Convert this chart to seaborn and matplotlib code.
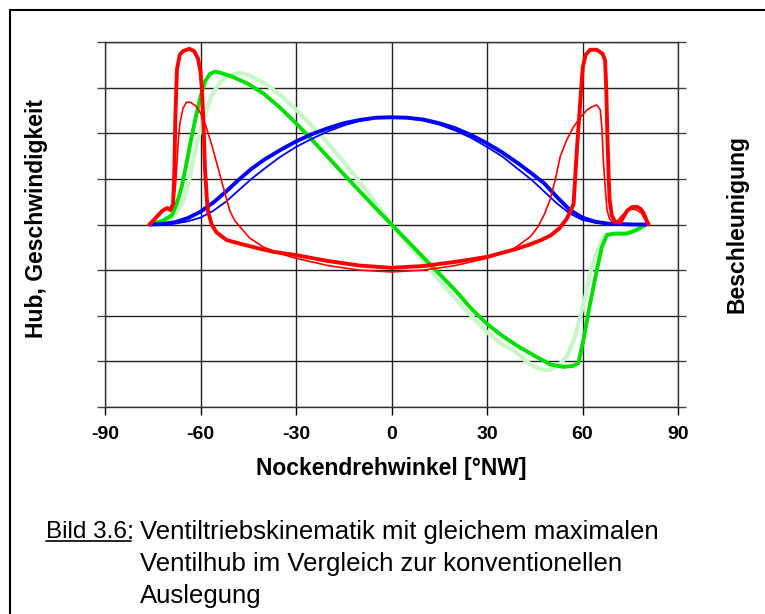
import matplotlib
matplotlib.use("Agg")
import matplotlib.pyplot as plt
from matplotlib.lines import Line2D
import seaborn as sns

# Nockenwinkel / Kurven
lift_x = [-76, -72, -68, -64, -60, -56, -52, -48, -44, -40, -35, -30, -25, -20, -15, -10, -5, 0,
          5, 10, 15, 20, 25, 30, 35, 40, 44, 48, 52, 56, 60, 64, 68, 72, 76, 80]
lift_new = [0, 0.01, 0.05, 0.14, 0.28, 0.48, 0.72, 0.98, 1.22, 1.42, 1.63, 1.82, 1.98, 2.11, 2.22, 2.29, 2.34, 2.35,
            2.34, 2.3, 2.22, 2.11, 1.96, 1.78, 1.57, 1.33, 1.12, 0.9, 0.6, 0.32, 0.15, 0.06, 0.02, 0.01, 0, 0]
lift_conv = [0, 0.0, 0.02, 0.07, 0.15, 0.3, 0.5, 0.75, 1.0, 1.22, 1.48, 1.7, 1.88, 2.04, 2.17, 2.27, 2.33, 2.35,
             2.33, 2.28, 2.19, 2.06, 1.9, 1.7, 1.48, 1.2, 0.98, 0.72, 0.46, 0.24, 0.1, 0.04, 0.01, 0, 0, 0]

vel_new_x = [-76, -72, -69, -67.5, -66, -64.5, -63, -61.5, -60, -58.5, -57, -55.5, -54, -50, -45, -40, -35, -30,
             -25, -20, -15, -10, -5, 0, 5, 10, 15, 20, 25, 30, 35, 40, 45, 50, 54, 57, 58.7, 60.3, 62.4, 64.5,
             66.1, 67.7, 70, 74, 77, 80]
vel_new = [0, 0.08, 0.2, 0.45, 0.8, 1.3, 1.85, 2.35, 2.8, 3.15, 3.3, 3.35, 3.33, 3.24, 3.08, 2.86, 2.56, 2.22,
           1.86, 1.48, 1.1, 0.73, 0.36, 0, -0.36, -0.72, -1.08, -1.44, -1.84, -2.18, -2.45, -2.68, -2.88, -3.07,
           -3.12, -3.1, -3.04, -2.53, -1.73, -1.0, -0.49, -0.23, -0.2, -0.2, -0.12, 0]

vel_conv_x = [-76, -72, -68.6, -65.5, -63.5, -61.3, -59.5, -58, -56.5, -55, -53.5, -51.8, -49.5, -47.6, -45, -40,
              -35, -30, -25, -20, -15, -10, -5, 0, 5, 10, 15, 20, 25, 30, 35, 38.3, 42, 45, 47.7, 50, 52, 55,
              57.5, 59.3, 61, 62.4, 64.5, 66.6, 68, 72.8, 76, 80]
vel_conv = [0, 0.07, 0.16, 0.5, 1.0, 1.74, 2.2, 2.55, 2.82, 3.0, 3.14, 3.24, 3.3, 3.32, 3.28, 3.1,
            2.84, 2.52, 2.16, 1.79, 1.37, 0.93, 0.47, 0, -0.42, -0.82, -1.22, -1.62, -2.0, -2.36, -2.64, -2.75,
            -2.98, -3.12, -3.19, -3.18, -3.12, -2.9, -2.5, -2.02, -1.55, -1.07, -0.6, -0.27, -0.2, -0.2, -0.14, 0]

acc_new_x = [-76, -74, -72, -70.5, -69.5, -68.6, -68.2, -67.9, -67.4, -66.5, -65.5, -63.5, -62, -60.8, -60, -59.5,
             -59, -58.6, -58, -57.6, -56.5, -55, -51.8, -47.6, -42, -37, -30, -20, -10, 0, 10, 20, 30, 38, 43,
             47, 50, 52.8, 55, 56.4, 57.2, 58.2, 59.3, 60.1, 61, 62.4, 64.5, 66.3, 67.1, 67.5, 67.8, 68.2, 68.5,
             69.2, 70.3, 71.9, 73, 74, 75.5, 77.1, 78.3, 79.2, 80.2, 80.8]
acc_new = [0, 0.15, 0.3, 0.36, 0.32, 0.45, 1.2, 2.33, 3.4, 3.72, 3.8, 3.85, 3.8, 3.64, 3.35, 2.9,
           2.1, 1.23, 0.55, 0.28, 0.0, -0.17, -0.34, -0.42, -0.52, -0.6, -0.67, -0.8, -0.9, -0.95, -0.91, -0.82,
           -0.71, -0.56, -0.45, -0.34, -0.24, -0.08, 0.12, 0.32, 0.45, 1.6, 2.69, 3.45, 3.72, 3.83, 3.83, 3.74,
           3.6, 2.9, 2.0, 1.1, 0.55, 0.2, 0.05, 0.04, 0.18, 0.3, 0.38, 0.39, 0.34, 0.25, 0.08, 0]

acc_conv_x = [-76, -74, -72, -70.5, -69.5, -68.6, -67.8, -67, -66.5, -65.5, -64.4, -63.2, -61.5, -60.2, -58.5,
              -57.1, -55.5, -53.9, -52.3, -50.8, -49.2, -47.6, -44.5, -40.3, -35, -30, -20, -10, 0, 10, 20, 30,
              38, 43.6, 46, 48, 49.8, 51.5, 53, 55, 57.2, 59.3, 61.4, 63, 64.5, 65.6, 66.1, 66.6, 67.2, 67.7,
              68.5, 69.8, 71, 72.5, 74, 75.5, 77, 78.5, 79.5, 80.8]
acc_conv = [0, 0.14, 0.28, 0.34, 0.3, 0.4, 0.9, 1.8, 2.2, 2.55, 2.68, 2.68, 2.6, 2.47, 2.2,
            1.89, 1.5, 1.09, 0.68, 0.3, 0.08, -0.05, -0.3, -0.49, -0.64, -0.74, -0.9, -1.0, -1.04, -1.0, -0.9,
            -0.74, -0.55, -0.27, -0.05, 0.22, 0.54, 1.0, 1.49, 1.85, 2.14, 2.35, 2.51, 2.58, 2.62, 2.51, 2.1,
            1.34, 0.75, 0.32, 0.12, 0.04, 0.08, 0.2, 0.3, 0.34, 0.32, 0.25, 0.12, 0]

x_ticks = [-90, -60, -30, 0, 30, 60, 90]

sns.set_theme(style="white")
plt.rcParams['font.family'] = ['Liberation Sans', 'DejaVu Sans']
plt.rcParams['text.color'] = 'black'
plt.rcParams['xtick.color'] = 'black'
plt.rcParams['ytick.color'] = 'black'

fig = plt.figure(figsize=(7.65, 6.14), dpi=100)
ax = fig.add_axes([105 / 765, 1 - 407 / 614, 573 / 765, 365 / 614])

# Reihenfolge: hellgruen unten, rot oben
curves = [
    (vel_conv_x, vel_conv, "#c6f7c6", 3.0),
    (vel_new_x, vel_new, "#00e000", 2.8),
    (lift_x, lift_conv, "#0000ff", 1.3),
    (lift_x, lift_new, "#0000ff", 2.8),
    (acc_conv_x, acc_conv, "#ff0000", 1.2),
    (acc_new_x, acc_new, "#ff0000", 2.8),
]
for xs, ys, col, lw in curves:
    sns.lineplot(x=xs, y=ys, ax=ax, sort=False, estimator=None, color=col, linewidth=lw)

ax.set_xlim(-90, 90)
ax.set_ylim(-4, 4)
ax.set_xticks(x_ticks)
ax.set_xticklabels([str(t) for t in x_ticks], fontsize=14, fontweight="bold", color="black")
ax.set_yticks(range(-4, 5))
ax.set_yticklabels([])
ax.grid(True, color="#222222", linewidth=1)
ax.tick_params(axis="x", direction="out", length=6, width=1, color="black", bottom=True, pad=8)
ax.tick_params(axis="y", direction="out", length=6, width=1, color="#444444", left=True, right=True)
for s in ax.spines.values():
    s.set_color("#333333")
    s.set_linewidth(1)
ax.set_xlabel("")
ax.set_ylabel("")

fig.text(391 / 765, 1 - 468 / 614, "Nockendrehwinkel [°NW]", ha="center", va="center",
         fontsize=16.5, fontweight="bold")
fig.text(37 / 765, 1 - 219 / 614, "Hub, Geschwindigkeit", ha="center", va="center",
         rotation=90, fontsize=16.5, fontweight="bold")
fig.text(737 / 765, 1 - 224 / 614, "Beschleunigung", ha="center", va="center",
         rotation=90, fontsize=16.5, fontweight="bold")

# Bildunterschrift
cap = dict(fontsize=18.5, va="center")
t_bild = fig.text(46 / 765, 1 - 532 / 614, "Bild 3.6", fontsize=17.5, va="center")
fig.text(127 / 765, 1 - 532 / 614, ":", **cap)
fig.text(140 / 765, 1 - 532 / 614, "Ventiltriebskinematik mit gleichem maximalen", **cap)
fig.text(140 / 765, 1 - 564 / 614, "Ventilhub im Vergleich zur konventionellen", **cap)
fig.text(140 / 765, 1 - 596 / 614, "Auslegung", **cap)

fig.canvas.draw()
bb = t_bild.get_window_extent().transformed(fig.transFigure.inverted())
fig.add_artist(Line2D([bb.x0, bb.x1 + 0.005], [bb.y0 + 0.004, bb.y0 + 0.004], color="black", linewidth=1.2))

# Rahmen links / oben
fig.add_artist(Line2D([10 / 765, 10 / 765], [0, 1 - 10 / 614], color="black", linewidth=1.5))
fig.add_artist(Line2D([10 / 765, 1], [1 - 10 / 614, 1 - 10 / 614], color="black", linewidth=1.5))

fig.savefig("out.png", dpi=100)
